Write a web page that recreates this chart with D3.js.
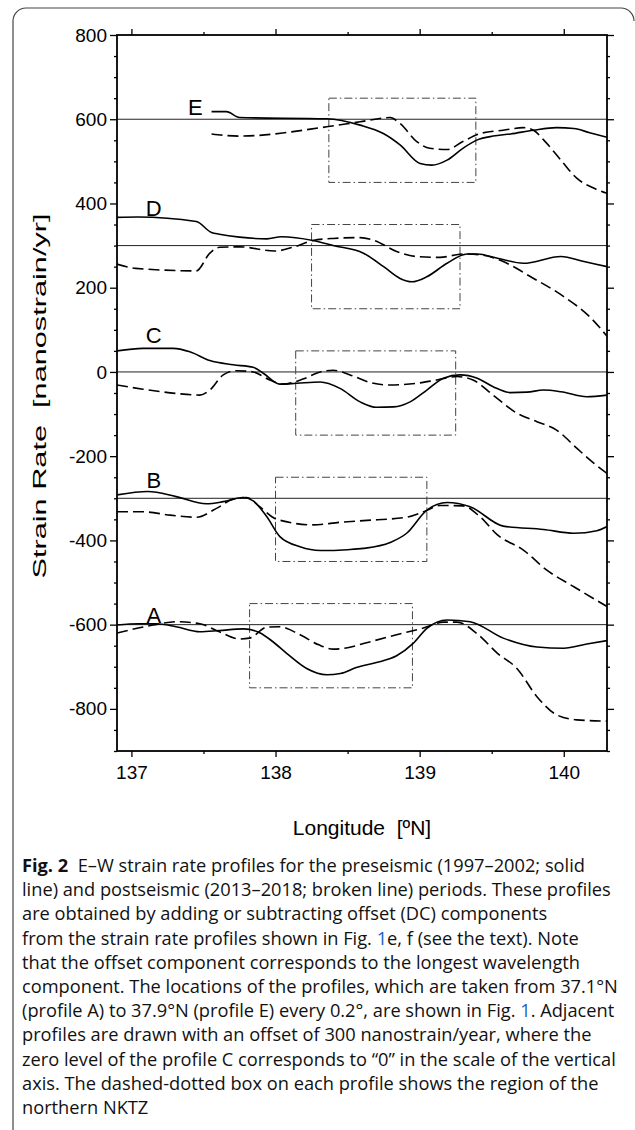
<!DOCTYPE html>
<html>
<head>
<meta charset="utf-8">
<script src="https://cdn.jsdelivr.net/npm/d3@7"></script>
<style>
  html, body { margin: 0; padding: 0; background: #fff; }
  svg { display: block; }
  text { white-space: pre; }
</style>
</head>
<body>
<div id="fig"></div>
<script>
// profile names, baselines (offset of 300 between profiles)
const profileNames = ["A", "B", "C", "D", "E"];
const baselines = [-600, -300, 0, 300, 600];

// label anchor positions [lon, value]
const labelPos = [[137.155, -595], [137.155, -276], [137.155, 69], [137.155, 371], [137.443, 610]];

// NKTZ boxes
const boxWest = [137.82, 138.0, 138.14, 138.25, 138.37];
const boxEast = [138.95, 139.05, 139.25, 139.28, 139.39];
const boxTop = [-550, -250, 50, 350, 650];
const boxBottom = [-750, -450, -150, 150, 450];

// preseismic (solid) profiles [lon, strain rate]
const solidA = [[136.9,-601],[137.05,-598],[137.17,-598],[137.31,-605],[137.475,-617],[137.61,-614],[137.776,-610],[137.89,-619],[137.98,-640],[138.077,-668],[138.216,-704],[138.355,-719],[138.45,-716],[138.56,-702],[138.7,-690],[138.84,-674],[138.957,-644],[139.05,-609],[139.19,-589],[139.35,-593],[139.58,-632],[139.814,-653],[140.0,-656],[140.16,-646],[140.3,-638]];
const solidB = [[136.9,-292],[137.115,-284],[137.31,-296],[137.52,-313],[137.637,-308],[137.776,-298],[137.845,-306],[137.94,-344],[138.03,-391],[138.17,-415],[138.31,-424],[138.5,-422],[138.61,-419],[138.795,-405],[138.91,-383],[139.05,-328],[139.19,-310],[139.35,-320],[139.58,-366],[139.86,-374],[140.07,-383],[140.23,-377],[140.3,-367]];
const solidC = [[136.9,50],[137.08,56],[137.29,56],[137.405,48],[137.544,27],[137.706,17],[137.845,11],[137.915,-3],[138.03,-29],[138.147,-27],[138.31,-24],[138.447,-39],[138.587,-71],[138.70,-84],[138.82,-83],[138.934,-71],[139.05,-43],[139.165,-15],[139.28,-7],[139.40,-15],[139.51,-35],[139.63,-49],[139.745,-48],[139.86,-43],[139.98,-47],[140.16,-59],[140.3,-55]];
const solidD = [[136.9,367],[137.046,368],[137.45,357],[137.556,331],[137.61,327],[137.75,320],[137.94,316],[138.04,321],[138.26,312],[138.40,300],[138.61,282],[138.75,250],[138.864,222],[138.946,214],[139.05,226],[139.19,258],[139.33,280],[139.40,280],[139.54,270],[139.72,258],[139.98,274],[140.14,262],[140.3,250]];
const solidE = [[137.556,618],[137.66,618],[137.75,604],[138.355,601],[138.587,586],[138.748,566],[138.864,539],[139.003,495],[139.085,491],[139.19,503],[139.30,531],[139.40,551],[139.51,560],[139.63,565],[139.79,574],[139.95,580],[140.07,578],[140.18,568],[140.3,557]];

// postseismic (broken) profiles
const dashedA = [[136.9,-620],[137.15,-601],[137.31,-593],[137.475,-598],[137.61,-617],[137.75,-634],[137.82,-632],[137.94,-606],[138.03,-605],[138.17,-624],[138.30,-648],[138.40,-658],[138.5,-655],[138.61,-645],[138.84,-624],[139.026,-608],[139.165,-594],[139.26,-594],[139.40,-622],[139.54,-668],[139.675,-704],[139.814,-771],[139.95,-814],[140.09,-826],[140.3,-829]];
const dashedB = [[136.9,-332],[137.08,-332],[137.27,-340],[137.45,-345],[137.59,-324],[137.706,-302],[137.8,-298],[137.89,-320],[138.01,-350],[138.26,-363],[138.45,-357],[138.61,-353],[138.91,-345],[139.05,-329],[139.14,-317],[139.30,-318],[139.42,-344],[139.54,-387],[139.72,-423],[139.88,-470],[140.07,-510],[140.3,-557]];
const dashedC = [[136.9,-31],[137.08,-41],[137.31,-51],[137.475,-55],[137.544,-43],[137.637,-7],[137.73,3],[137.845,0],[137.96,-19],[138.05,-29],[138.19,-17],[138.31,0],[138.40,4],[138.517,-7],[138.656,-25],[138.795,-31],[138.98,-27],[139.12,-19],[139.26,-11],[139.37,-19],[139.51,-55],[139.675,-98],[139.814,-118],[139.95,-138],[140.09,-181],[140.21,-217],[140.3,-241]];
const dashedD = [[136.9,256],[137.03,246],[137.45,240],[137.544,282],[137.61,296],[137.75,297],[137.996,287],[138.12,296],[138.26,312],[138.40,317],[138.587,319],[138.68,313],[138.84,286],[138.98,274],[139.14,272],[139.30,280],[139.42,278],[139.58,262],[139.77,226],[140.0,179],[140.18,131],[140.3,85]];
const dashedE = [[137.556,565],[137.75,560],[138.355,582],[138.587,594],[138.795,604],[138.864,590],[138.98,547],[139.07,531],[139.19,528],[139.30,547],[139.42,566],[139.58,574],[139.72,580],[139.79,574],[139.86,551],[139.98,503],[140.09,460],[140.21,436],[140.3,424]];

const solidProfiles = [solidA, solidB, solidC, solidD, solidE];
const dashedProfiles = [dashedA, dashedB, dashedC, dashedD, dashedE];

// axis ticks
const xMajor = [137, 138, 139, 140];
const xMinor = [137.5, 138.5, 139.5];
const yMajor = [-800, -600, -400, -200, 0, 200, 400, 600, 800];
const yMinor = d3.range(-900, 801, 50).filter(v => v % 200 !== 0);

const xLabel = "Longitude  [ºN]";
const yLabel = "Strain Rate  [nanostrain/yr]";

// caption lines, each a list of [text, style]
const captionLines = [
  [["Fig. 2", "bold"], ["  E–W strain rate profiles for the preseismic (1997–2002; solid", ""]],
  [["line) and postseismic (2013–2018; broken line) periods. These profiles", ""]],
  [["are obtained by adding or subtracting offset (DC) components", ""]],
  [["from the strain rate profiles shown in Fig. ", ""], ["1", "link"], ["e, f (see the text). Note", ""]],
  [["that the offset component corresponds to the longest wavelength", ""]],
  [["component. The locations of the profiles, which are taken from 37.1°N", ""]],
  [["(profile A) to 37.9°N (profile E) every 0.2°, are shown in Fig. ", ""], ["1", "link"], [". Adjacent", ""]],
  [["profiles are drawn with an offset of 300 nanostrain/year, where the", ""]],
  [["zero level of the profile C corresponds to “0” in the scale of the vertical", ""]],
  [["axis. The dashed-dotted box on each profile shows the region of the", ""]],
  [["northern NKTZ", ""]]
];

const width = 635;
const height = 1130;
const plot = { left: 117, right: 607, top: 35, bottom: 751 };

const svg = d3.select("#fig").append("svg")
    .attr("width", width)
    .attr("height", height);

// outer rounded frame
svg.append("path")
    .attr("d", "M13,1130 V21 A13,13 0 0 1 26,8 H621 A13,13 0 0 1 634,21")
    .attr("fill", "none")
    .attr("stroke", "#444")
    .attr("stroke-width", 1.2);

const xScale = d3.scaleLinear().domain([136.9, 140.3]).range([plot.left, plot.right]);
const yScale = d3.scaleLinear().domain([-900, 800]).range([plot.bottom, plot.top]);

svg.append("clipPath").attr("id", "clip")
  .append("rect")
    .attr("x", plot.left).attr("y", plot.top)
    .attr("width", plot.right - plot.left).attr("height", plot.bottom - plot.top);

const g = svg.append("g").attr("clip-path", "url(#clip)");

// zero level of every profile
g.selectAll(".base")
  .data(baselines)
  .enter().append("line")
    .attr("class", "base")
    .attr("x1", plot.left).attr("x2", plot.right)
    .attr("y1", d => yScale(d)).attr("y2", d => yScale(d))
    .attr("stroke", "#222")
    .attr("stroke-width", 1);

// NKTZ boxes
g.selectAll(".box")
  .data(profileNames.map((n, i) => i))
  .enter().append("rect")
    .attr("class", "box")
    .attr("x", i => xScale(boxWest[i]))
    .attr("y", i => yScale(boxTop[i]))
    .attr("width", i => xScale(boxEast[i]) - xScale(boxWest[i]))
    .attr("height", i => yScale(boxBottom[i]) - yScale(boxTop[i]))
    .attr("fill", "none")
    .attr("stroke", "#444")
    .attr("stroke-width", 1)
    .attr("stroke-dasharray", "8,3,1.5,3");

const line = d3.line()
    .x(d => xScale(d[0]))
    .y(d => yScale(d[1]))
    .curve(d3.curveMonotoneX);

g.selectAll(".solid")
  .data(solidProfiles)
  .enter().append("path")
    .attr("class", "solid")
    .attr("d", line)
    .attr("fill", "none")
    .attr("stroke", "#000")
    .attr("stroke-width", 1.6);

g.selectAll(".dashed")
  .data(dashedProfiles)
  .enter().append("path")
    .attr("class", "dashed")
    .attr("d", line)
    .attr("fill", "none")
    .attr("stroke", "#000")
    .attr("stroke-width", 1.6)
    .attr("stroke-dasharray", "11,5");

// profile letters
svg.selectAll(".plabel")
  .data(profileNames)
  .enter().append("text")
    .attr("class", "plabel")
    .attr("x", (d, i) => xScale(labelPos[i][0]))
    .attr("y", (d, i) => yScale(labelPos[i][1]))
    .attr("text-anchor", "middle")
    .attr("font-family", "Liberation Sans, Arial, sans-serif")
    .attr("font-size", 22)
    .text(d => d);

// axes: majors with labels, minors without, on all four sides
const fmt = d => String(d);
const axisFont = "Liberation Sans, Arial, sans-serif";

function addAxis(axisFn, scale, values, size, labels, transform, pad) {
  const a = svg.append("g")
      .attr("transform", transform)
      .call(axisFn(scale).tickValues(values).tickSize(size).tickPadding(pad || 4)
            .tickFormat(labels ? fmt : () => ""));
  a.select(".domain").remove();
  a.selectAll("line").attr("stroke", "#000").attr("stroke-width", 1.3);
  a.selectAll("text").attr("font-family", axisFont).attr("font-size", 19).attr("fill", "#000");
  return a;
}

addAxis(d3.axisBottom, xScale, xMajor, 6, true, `translate(0,${plot.bottom})`, 9);
addAxis(d3.axisBottom, xScale, xMinor, 3, false, `translate(0,${plot.bottom})`);
addAxis(d3.axisTop, xScale, xMajor, 6, false, `translate(0,${plot.top})`);
addAxis(d3.axisTop, xScale, xMinor, 3, false, `translate(0,${plot.top})`);
addAxis(d3.axisLeft, yScale, yMajor, 7, true, `translate(${plot.left},0)`, 3);
addAxis(d3.axisLeft, yScale, yMinor, 3, false, `translate(${plot.left},0)`);
addAxis(d3.axisRight, yScale, yMajor, 7, false, `translate(${plot.right},0)`);
addAxis(d3.axisRight, yScale, yMinor, 3, false, `translate(${plot.right},0)`);

// frame
svg.append("rect")
    .attr("x", plot.left).attr("y", plot.top)
    .attr("width", plot.right - plot.left).attr("height", plot.bottom - plot.top)
    .attr("fill", "none")
    .attr("stroke", "#000")
    .attr("stroke-width", 1.8);

// axis titles
svg.append("text")
    .attr("x", (plot.left + plot.right) / 2)
    .attr("y", 835)
    .attr("text-anchor", "middle")
    .attr("font-family", axisFont)
    .attr("font-size", 21)
    .text(xLabel);

svg.append("text")
    .attr("transform", `translate(46,${(plot.top + plot.bottom) / 2 + 3}) rotate(-90)`)
    .attr("text-anchor", "middle")
    .attr("font-family", axisFont)
    .attr("font-size", 19)
    .attr("textLength", 365)
    .attr("lengthAdjust", "spacingAndGlyphs")
    .text(yLabel);

// caption
const cap = svg.append("g")
    .attr("font-family", "Open Sans, Noto Sans, sans-serif")
    .attr("fill", "#111");

const capText = cap.selectAll("text")
  .data(captionLines)
  .enter().append("text")
    .attr("x", 22)
    .attr("y", (d, i) => 872 + i * 24.2)
    .attr("font-size", 16);

capText.selectAll("tspan")
  .data(d => d)
  .enter().append("tspan")
    .attr("font-weight", d => d[1] === "bold" ? "bold" : null)
    .attr("fill", d => d[1] === "link" ? "#1f5fbf" : null)
    .text(d => d[0]);

// fit the longest caption line to the column width
const widest = d3.max(capText.nodes(), n => n.getComputedTextLength());
capText.attr("font-size", 16 * 596 / widest);
</script>
</body>
</html>
